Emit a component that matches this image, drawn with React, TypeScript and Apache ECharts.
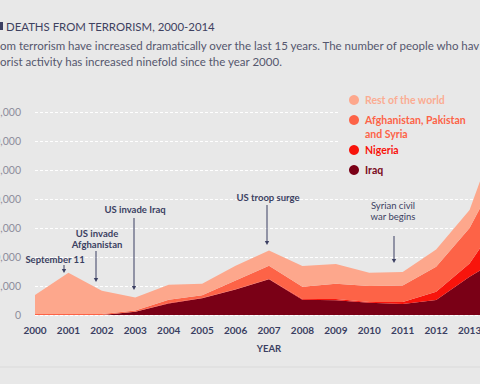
import React, { useEffect, useRef } from "react";
import * as echarts from "echarts";

const years = ["2000","2001","2002","2003","2004","2005","2006","2007","2008","2009","2010","2011","2012","2013","2014"];
const iraq = [0, 0, 0, 550, 2000, 2900, 4400, 6150, 2650, 2550, 2100, 1900, 2600, 6600, 10100];
const nigeria = [20, 20, 20, 20, 50, 50, 50, 50, 100, 200, 150, 350, 1400, 2300, 7200];
const afPakSyria = [150, 150, 150, 200, 600, 450, 1500, 2300, 2100, 2650, 2750, 2850, 4300, 6100, 8600];
const restOfWorld = [3280, 7130, 4030, 2230, 2550, 2000, 2550, 2600, 3600, 3400, 2300, 2300, 3000, 3100, 8100];

const seriesNames = ["Iraq", "Nigeria", "Afghanistan, Pakistan\nand Syria", "Rest of the world"];
const seriesColors = ["#7a0016", "#f8140c", "#fd6347", "#fda78c"];
const legendTextColors = ["#7a0a20", "#f8140c", "#fd6347", "#fbac92"];

const annotations = [
  { text: "September 11", tx: 55, ty: 259, ax: 64, ay1: 265, ay2: 273, bold: true },
  { text: "US invade\nAfghanistan", tx: 97, ty: 239, ax: 96, ay1: 251, ay2: 282, bold: true },
  { text: "US invade Iraq", tx: 135, ty: 209, ax: 134, ay1: 218, ay2: 290, bold: true },
  { text: "US troop surge", tx: 268, ty: 197, ax: 267, ay1: 205, ay2: 245, bold: true },
  { text: "Syrian civil\nwar begins", tx: 393, ty: 211, ax: 394, ay1: 236, ay2: 263, bold: false },
];

const NAVY = "#3b3f62";
const BG = "#e8e8e8";
const FONT = "Lato, 'Open Sans', sans-serif";

export default function App() {
  const ref = useRef<HTMLDivElement>(null);
  useEffect(() => {
    if (!ref.current) return;
    const chart = echarts.init(ref.current, undefined, { renderer: "svg" });
    const data = [iraq, nigeria, afPakSyria, restOfWorld];

    const graphic: any[] = [];
    graphic.push({ type: "rect", z: 1, shape: { x: 338, y: 104, width: 142, height: 74 }, style: { fill: BG } });
    graphic.push({ type: "rect", z: 5, shape: { x: 0, y: 22, width: 3, height: 8 }, style: { fill: NAVY } });
    graphic.push({ type: "text", z: 5, x: 6, y: 26, style: { text: "DEATHS FROM TERRORISM, 2000-2014", fill: "#3e4160", font: `11.4px ${FONT}`, verticalAlign: "middle" } });
    graphic.push({ type: "text", z: 5, x: 0, y: 45, style: { text: "om terrorism have increased dramatically over the last 15 years. The number of people who hav", fill: "#55576e", font: `11.5px ${FONT}`, verticalAlign: "middle" } });
    graphic.push({ type: "text", z: 5, x: 0, y: 61, style: { text: "orist activity has increased ninefold since the year 2000.", fill: "#55576e", font: `11.5px ${FONT}`, verticalAlign: "middle" } });
    const legendY = [170, 150, 120, 100];
    for (let i = 3; i >= 0; i--) {
      graphic.push({ type: "circle", z: 5, shape: { cx: 354, cy: legendY[i], r: 5 }, style: { fill: seriesColors[i] } });
      if (i === 2) {
        graphic.push({ type: "text", z: 5, x: 365, y: 113, style: { text: seriesNames[i], fill: legendTextColors[i], font: `bold 10.5px ${FONT}`, verticalAlign: "top", lineHeight: 14 } });
      } else {
        graphic.push({ type: "text", z: 5, x: 365, y: legendY[i], style: { text: seriesNames[i], fill: legendTextColors[i], font: `bold 10.5px ${FONT}`, verticalAlign: "middle" } });
      }
    }
    annotations.forEach((a) => {
      graphic.push({ type: "text", z: 5, x: a.tx, y: a.ty, style: { text: a.text, fill: NAVY, font: `${a.bold ? "bold " : ""}9.5px ${FONT}`, align: "center", verticalAlign: "middle", lineHeight: 11 } });
      graphic.push({ type: "line", z: 5, shape: { x1: a.ax, y1: a.ay1, x2: a.ax, y2: a.ay2 - 2 }, style: { stroke: NAVY, lineWidth: 1 } });
      graphic.push({ type: "polygon", z: 5, shape: { points: [[a.ax - 2.2, a.ay2 - 4], [a.ax + 2.2, a.ay2 - 4], [a.ax, a.ay2]] }, style: { fill: NAVY } });
    });
    graphic.push({ type: "line", z: 5, shape: { x1: 0, y1: 367, x2: 480, y2: 367 }, style: { stroke: "#dadada", lineWidth: 1 } });

    chart.setOption({
      animation: false,
      backgroundColor: BG,
      grid: { left: 35, right: -23, top: 112, bottom: 69, containLabel: false, outerBoundsMode: "none" },
      xAxis: {
        type: "category",
        data: years,
        boundaryGap: false,
        axisLine: { show: false },
        axisTick: { show: false },
        axisLabel: { color: NAVY, fontFamily: FONT, fontWeight: "bold", fontSize: 10, margin: 10, interval: 0 },
        name: "YEAR",
        nameLocation: "middle",
        nameGap: 28,
        nameTextStyle: { color: NAVY, fontFamily: FONT, fontWeight: "bold", fontSize: 9.5 },
      },
      yAxis: {
        type: "value",
        min: 0,
        max: 35000,
        interval: 5000,
        axisLine: { show: false },
        axisTick: { show: false },
        axisLabel: {
          color: "#8e8e9c",
          fontFamily: FONT,
          fontSize: 10.5,
          margin: 14,
          formatter: (v: number) => v.toLocaleString("en-US"),
        },
        splitLine: { lineStyle: { color: "#ffffff", width: 1, type: [3, 2] } },
      },
      series: data.map((d, i) => ({
        name: seriesNames[i],
        type: "line",
        stack: "total",
        data: d,
        symbol: "none",
        lineStyle: { width: 0 },
        areaStyle: { color: seriesColors[i], opacity: 1 },
        itemStyle: { color: seriesColors[i] },
        z: 2,
      })),
      graphic,
    });
    return () => chart.dispose();
  }, []);
  return <div ref={ref} style={{ width: 480, height: 384, position: "absolute", left: 0, top: 0 }} />;
}
